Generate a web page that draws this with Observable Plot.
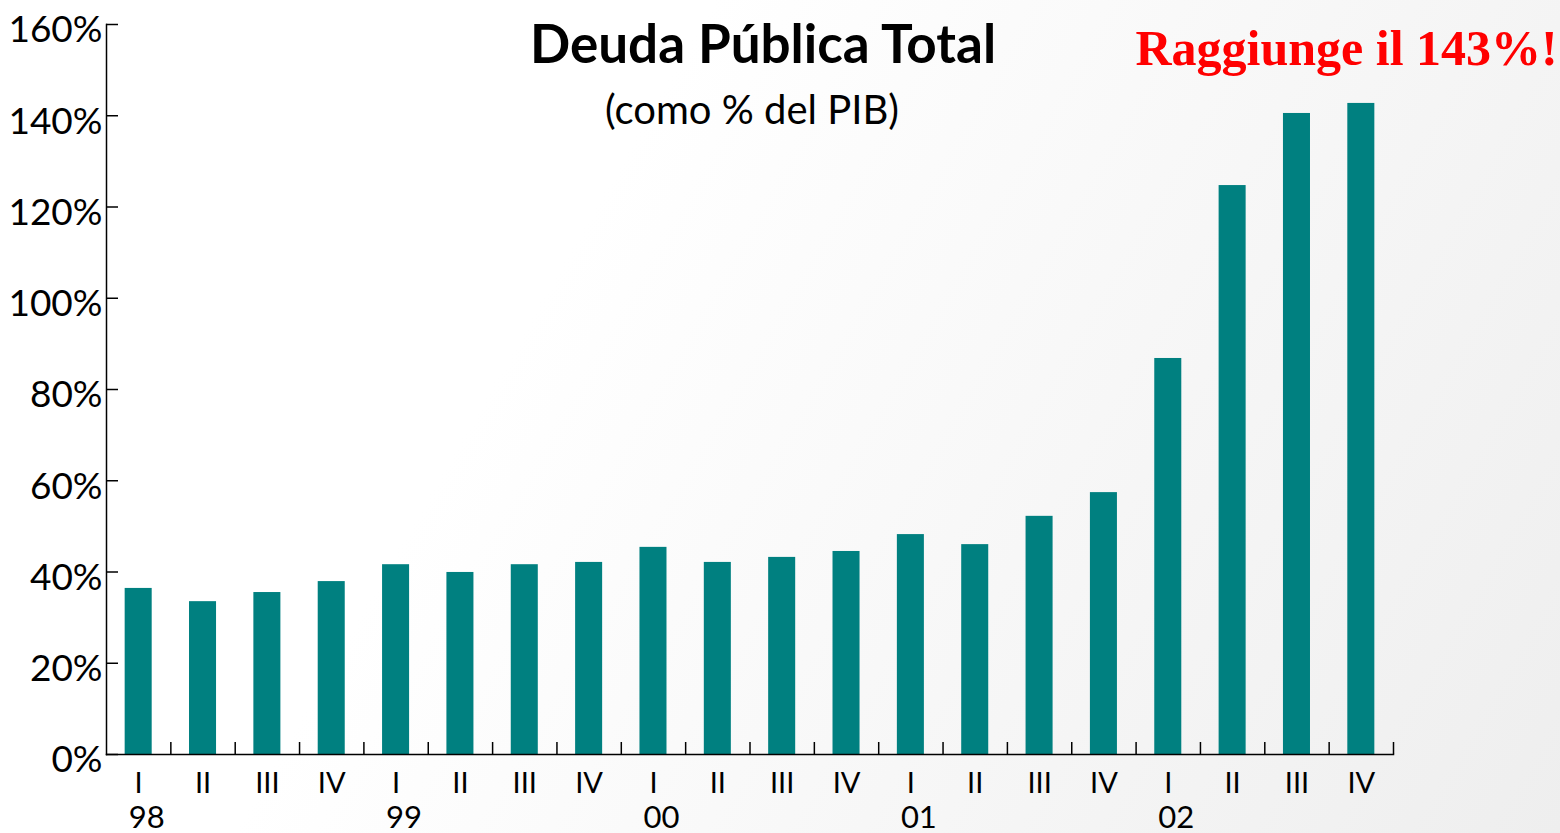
<!DOCTYPE html>
<html>
<head>
<meta charset="utf-8">
<script src="https://cdn.jsdelivr.net/npm/d3@7"></script>
<script src="https://cdn.jsdelivr.net/npm/@observablehq/plot@0.6"></script>
<style>
  html, body { margin: 0; padding: 0; }
  body {
    width: 1560px; height: 833px; overflow: hidden;
    background: linear-gradient(120deg, #ffffff 35%, #eeeeee 100%);
  }
  #chart svg { display: block; background: transparent; }
</style>
</head>
<body>
<div id="chart"></div>
<script>
const years = ["98", "99", "00", "01", "02"];
const quarters = ["I", "II", "III", "IV"];
const values = [36.4, 33.5, 35.5, 37.9, 41.6, 39.9, 41.6, 42.1, 45.4, 42.1,
                43.2, 44.5, 48.2, 46.0, 52.2, 57.4, 86.8, 124.7, 140.5, 142.7];
const yTicks = [0, 20, 40, 60, 80, 100, 120, 140, 160];
const title = "Deuda Pública Total";
const subtitle = "(como % del PIB)";
const note = "Raggiunge il 143%!";

const data = values.map((v, i) => ({
  period: years[Math.floor(i / 4)] + "-" + quarters[i % 4],
  year: years[Math.floor(i / 4)],
  quarter: quarters[i % 4],
  value: v
}));
const periods = data.map(d => d.period);
const firstQuarters = data.filter(d => d.quarter === "I");

const W = 1560, H = 833, mL = 106, mR = 167, mT = 24, mB = 79;
const step = (W - mL - mR) / periods.length;
const font = "Lato, 'Open Sans', sans-serif";

const chart = Plot.plot({
  width: W, height: H,
  marginLeft: mL, marginRight: mR, marginTop: mT, marginBottom: mB,
  style: { fontFamily: font, color: "#000", background: "transparent", overflow: "visible" },
  x: { domain: periods, paddingInner: 0.58, paddingOuter: 0.29, round: false, axis: null, label: null },
  y: { domain: [0, 160], axis: null, label: null },
  marks: [
    Plot.barY(data, { x: "period", y: "value", fill: "#008080" }),
    Plot.frame({ anchor: "left", stroke: "#000", strokeWidth: 1.5 }),
    Plot.frame({ anchor: "bottom", stroke: "#000", strokeWidth: 1.5 }),
    // inward y ticks
    Plot.axisY({ ticks: yTicks, tickSize: -12, fill: "none", stroke: "#000", strokeWidth: 1.5, label: null }),
    // y labels
    Plot.axisY({ ticks: yTicks, tickSize: 0, tickPadding: 4, dy: 6, tickFormat: d => d + "%",
      fontSize: 37, fill: "#000", label: null }),
    // x ticks between bars (at band boundaries)
    Plot.axisX({ domain: periods, tickSize: -12, fill: "none", stroke: "#000", strokeWidth: 1.5, dx: step / 2, label: null }),
    // quarter labels
    Plot.axisX({ tickSize: 0, tickPadding: 18, tickFormat: d => d.split("-")[1], fontSize: 29, fill: "#000", label: null }),
    // year labels
    Plot.text(firstQuarters, { x: "period", y: () => 0, text: "year", dy: 73, dx: 8,
      lineAnchor: "bottom", fontSize: 31, fill: "#000" }),
    // titles
    Plot.text([title], { frameAnchor: "top", dx: 13, dy: 38, lineAnchor: "bottom",
      fontSize: 53, fontWeight: "bold", fill: "#000" }),
    Plot.text([subtitle], { frameAnchor: "top", dx: 2, dy: 99, lineAnchor: "bottom",
      fontSize: 40, fill: "#000" }),
    Plot.text([note], { frameAnchor: "top-right", dx: -258, dy: 40, textAnchor: "start", lineAnchor: "bottom",
      fontSize: 50, fontWeight: "bold", fill: "#ff0000",
      fontFamily: "'Liberation Serif', 'DejaVu Serif', serif" })
  ]
});
document.getElementById("chart").appendChild(chart);
</script>
</body>
</html>
